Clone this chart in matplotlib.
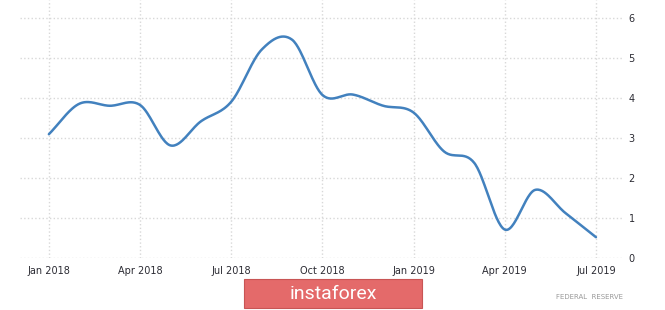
import numpy as np
import matplotlib
matplotlib.use('Agg')
import matplotlib.pyplot as plt
from matplotlib.patches import Rectangle

# месячные значения, янв 2018 - июл 2019
months = ['Jan 2018', 'Feb 2018', 'Mar 2018', 'Apr 2018', 'May 2018', 'Jun 2018',
          'Jul 2018', 'Aug 2018', 'Sep 2018', 'Oct 2018', 'Nov 2018', 'Dec 2018',
          'Jan 2019', 'Feb 2019', 'Mar 2019', 'Apr 2019', 'May 2019', 'Jun 2019',
          'Jul 2019']
values = [3.09, 3.85, 3.80, 3.82, 2.81, 3.41, 3.90, 5.20, 5.45, 4.07, 4.08, 3.80,
          3.63, 2.66, 2.37, 0.71, 1.70, 1.12, 0.52]
tick_labels = ['Jan 2018', 'Apr 2018', 'Jul 2018', 'Oct 2018',
               'Jan 2019', 'Apr 2019', 'Jul 2019']
y_ticks = [0, 1, 2, 3, 4, 5, 6]


def catmull_rom(x, y, n=30):
    '''Сглаживание линии сплайном Катмулла-Рома'''
    x = np.asarray(x, float)
    y = np.asarray(y, float)
    px = np.concatenate([[2 * x[0] - x[1]], x, [2 * x[-1] - x[-2]]])
    py = np.concatenate([[2 * y[0] - y[1]], y, [2 * y[-1] - y[-2]]])
    t = np.linspace(0, 1, n, endpoint=False)
    xs, ys = [], []
    for i in range(1, len(px) - 2):
        for p, out in ((px, xs), (py, ys)):
            p0, p1, p2, p3 = p[i - 1], p[i], p[i + 1], p[i + 2]
            out.extend(0.5 * (2 * p1 + (-p0 + p2) * t
                              + (2 * p0 - 5 * p1 + 4 * p2 - p3) * t ** 2
                              + (-p0 + 3 * p1 - 3 * p2 + p3) * t ** 3))
    xs.append(x[-1])
    ys.append(y[-1])
    return np.array(xs), np.array(ys)


x = np.arange(len(months))
xs, ys = catmull_rom(x, values)

fig = plt.figure(figsize=(6.65, 3.10), dpi=100)
ax = fig.add_axes([20 / 665, 52 / 310, 603 / 665, 258 / 310])

ax.plot(xs, ys, color='#4281be', linewidth=1.8, solid_capstyle='round')

ax.set_xlim(-0.95, 18.89)
ax.set_ylim(0, 6.44)
ax.set_xticks([months.index(m) for m in tick_labels])
ax.set_xticklabels(tick_labels)
ax.set_yticks(y_ticks)
ax.yaxis.tick_right()
ax.tick_params(axis='both', length=0, labelsize=7, labelcolor='#2b2b33')
ax.tick_params(axis='x', pad=6)
ax.tick_params(axis='y', pad=4)
ax.grid(True, color='#d8d8d8', linestyle=':', linewidth=1)
for s in ax.spines.values():
    s.set_visible(False)

# плашка instaforex
fig.patches.append(Rectangle((244 / 665, 2 / 310), 178 / 665, 29 / 310,
                             transform=fig.transFigure, facecolor='#e46a6a',
                             edgecolor='#c85555', linewidth=0.8))
fig.text(333 / 665, 16 / 310, 'instaforex', color='white', fontsize=14,
         family=['Roboto', 'DejaVu Sans'],
         ha='center', va='center')
fig.text(590 / 665, 13 / 310, 'FEDERAL  RESERVE', color='#9a9a9a', fontsize=5,
         ha='center', va='center')

fig.savefig('out.png', dpi=100)
